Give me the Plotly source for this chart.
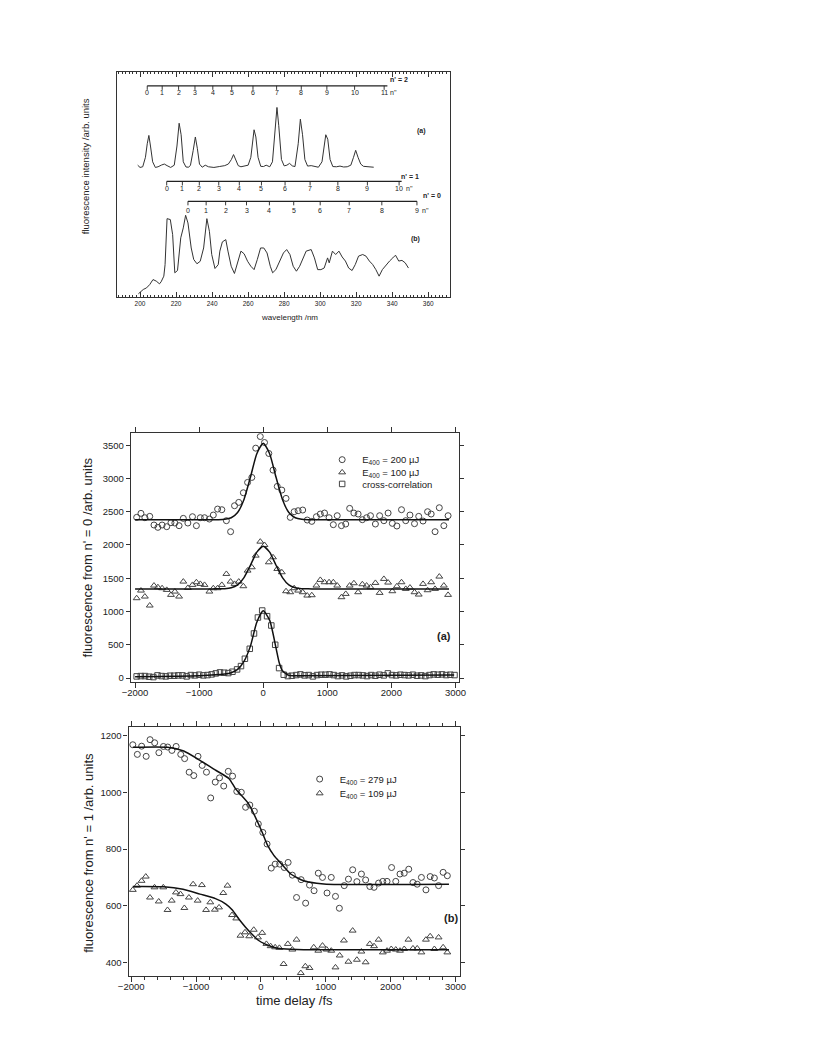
import plotly.graph_objects as go

W, H = 816, 1056
OFF = 8  # the page body adds an 8 px margin; compensate so the picture sits like the reference
FONT = "Liberation Sans, Arial, sans-serif"
INK = "#222222"

# ---------------- panel 1 : dispersed fluorescence spectra ----------------
spec_a_wl = [198.7, 200, 201.5, 203, 204, 204.9, 205.8, 207, 208.5, 210, 212, 213.5, 215, 217, 219,
             220.5, 221.7, 222.8, 224, 225.5, 227, 228, 229.5, 230.7, 231.8, 233, 234.5, 236.2, 238,
             241, 244, 247, 249, 250.7, 251.9, 253.2, 254.5, 256, 258, 260, 261.5, 262.5, 263.3,
             264.3, 265.5, 267, 268.5, 270, 272, 273.5, 275, 276.0, 277, 278.5, 280, 281.5, 283,
             284.5, 286, 287.8, 289.0, 290.2, 291.5, 293, 295, 297, 299, 301, 302.2, 303.1, 304.2,
             305.5, 307, 309, 311, 313, 315, 317, 318.5, 319.7, 321, 322.5, 324, 326, 328, 329.7]
spec_a_int = [58.5, 57.5, 57.8, 62, 68, 71.7, 67, 60, 57.5, 57.8, 58.6, 59.0, 58.3, 57.5, 58.5,
              67, 77.1, 72, 60, 57.7, 57.6, 58.5, 65, 71.0, 66, 59, 57.6, 58.5, 57.8,
              57.5, 57.9, 58.3, 59, 61, 63.2, 61, 58.3, 57.8, 58, 58.5, 62, 70, 74.2,
              71, 62, 58, 57.9, 58.5, 57.8, 60, 74, 84.1, 76, 61, 58.2, 58.5, 59.3,
              58.2, 57.9, 68, 78.9, 72, 61, 58.1, 58.3, 58.0, 57.6, 60, 68, 72.0, 70,
              61, 57.9, 57.8, 58.1, 57.7, 57.8, 58.5, 62, 65.1, 62, 59, 58, 57.9, 57.5, 57.6]

spec_b_wl = [199.1, 201.8, 203.6, 205.4, 207.2, 209.0, 210.8, 211.7, 213.2, 213.9, 215.0, 216.8,
             218.1, 219.3, 220.8, 222.6, 224.0, 225.3, 226.6, 228.4, 229.8, 231.6, 233.4, 235.3,
             237.1, 238.5, 239.8, 241.6, 243.4, 244.3, 245.7, 247.6, 248.8, 250.6, 252.4, 254.2,
             256.0, 257.8, 259.7, 261.5, 263.3, 265.1, 266.9, 268.7, 270.5, 272.3, 273.6, 275.4,
             277.2, 279.6, 281.4, 283.2, 285.0, 286.8, 288.6, 290.4, 292.2, 295.0, 296.8, 298.6,
             300.4, 302.2, 304.1, 305.0, 306.8, 308.6, 310.4, 312.2, 314.0, 315.8, 317.7, 319.5,
             321.3, 323.6, 325.4, 327.3, 329.1, 330.9, 332.7, 334.5, 336.7, 338.5, 340.3, 341.8,
             343.6, 345.4, 347.2, 349.0]
spec_b_int = [1.5, 3.4, 4.1, 5.6, 7.8, 7.1, 5.9, 6.8, 9.3, 14.4, 34.8, 34.4,
              27.7, 10.8, 11.8, 26.3, 30.7, 36.3, 32.9, 21.8, 16.7, 14.8, 15.9, 21.8,
              34.8, 29.2, 18.9, 12.7, 14.4, 20.4, 24.5, 25.5, 20.4, 13.7, 10.5, 15.9,
              20.4, 19.2, 15.9, 13.7, 12.2, 16.7, 21.8, 21.8, 19.6, 13.7, 10.8, 12.2,
              15.2, 19.6, 21.1, 18.9, 13.7, 11.5, 13.7, 17.4, 20.4, 21.1, 17.4, 12.2,
              12.2, 12.9, 17.4, 15.2, 20.4, 18.9, 20.4, 17.8, 16.0, 12.9, 11.8, 14.5,
              18.2, 18.9, 18.2, 16.0, 14.5, 12.2, 9.3, 12.2, 14.5, 16.0, 17.4, 18.6,
              16.0, 16.3, 15.2, 12.9]

# vibrational progressions (n'' combs): wavelength of each member
comb2_wl = [204.0, 212.3, 221.4, 230.5, 240.4, 250.9, 262.7, 275.8, 289.5, 303.7, 319.1, 335.5]
comb1_wl = [214.8, 223.5, 232.9, 243.7, 255.1, 267.4, 280.5, 294.4, 309.8, 326.2, 343.8]
comb0_wl = [226.6, 236.7, 247.5, 259.1, 271.8, 285.3, 300.0, 316.1, 334.2, 353.7]
comb_level = [93.7, 51.3, 42.5]          # height of each comb bar (arb. units)
comb_end = [337.3, 345.2, 353.7]
comb_names = ["n' = 2", "n' = 1", "n' = 0"]
comb_name_pos = [(343.8, 96.3), (350.1, 53.3), (361.9, 45.0)]
npp_pos = [340.8, 349.6, 358.6]

# ---------------- panel 2 : n' = 0 transients ----------------
t_grid = [-1975, -1908, -1847, -1771, -1705, -1644, -1578, -1506, -1440, -1379,
          -1313, -1247, -1176, -1104, -1043, -982, -916, -840, -779, -712,
          -646, -575, -509, -448, -382, -310, -244, -178, -117, -46,
          20, 87, 153, 219, 290, 356, 422, 483, 545, 616,
          687, 758, 830, 891, 957, 1028, 1094, 1155, 1221, 1288,
          1349, 1415, 1481, 1547, 1613, 1674, 1751, 1817, 1883, 1949,
          2015, 2086, 2158, 2224, 2290, 2361, 2427, 2494, 2565, 2621,
          2682, 2748, 2819, 2885]
e200_v = [2415, 2475, 2410, 2430, 2300, 2265, 2300, 2275, 2335, 2330,
          2290, 2400, 2330, 2425, 2290, 2410, 2410, 2390, 2450, 2540,
          2530, 2365, 2200, 2590, 2640, 2785, 2940, 3015, 3455, 3630,
          3540, 3375, 3125, 2880, 2825, 2700, 2415, 2500, 2515, 2525,
          2375, 2355, 2425, 2465, 2480, 2410, 2305, 2440, 2290, 2315,
          2550, 2480, 2465, 2380, 2410, 2440, 2315, 2440, 2365, 2480,
          2325, 2285, 2530, 2365, 2450, 2320, 2430, 2360, 2500, 2465,
          2200, 2560, 2290, 2440]
e100_v = [1200, 1315, 1225, 1090, 1390, 1365, 1350, 1325, 1250, 1300,
          1225, 1450, 1355, 1400, 1440, 1415, 1400, 1300, 1350, 1350,
          1400, 1565, 1450, 1415, 1450, 1380, 1615, 1665, 1840, 2050,
          2000, 1740, 1815, 1640, 1590, 1305, 1290, 1350, 1315, 1290,
          1240, 1245, 1390, 1475, 1440, 1440, 1440, 1390, 1215, 1265,
          1390, 1425, 1290, 1410, 1390, 1365, 1430, 1280, 1490, 1435,
          1305, 1380, 1440, 1340, 1360, 1290, 1255, 1415, 1320, 1440,
          1340, 1525, 1390, 1250]
cc_t = [-1975, -1910, -1845, -1780, -1715, -1650, -1585, -1520, -1455, -1390,
        -1325, -1260, -1195, -1130, -1065, -1000, -935, -870, -805, -740,
        -675, -610, -545, -480, -408, -347, -286, -210, -144, -83,
        -16, 60, 126, 187, 248, 320, 385, 448, 515, 580,
        645, 710, 775, 840, 905, 970, 1035, 1100, 1165, 1230,
        1295, 1360, 1425, 1490, 1555, 1620, 1685, 1750, 1815, 1880,
        1945, 2010, 2075, 2140, 2205, 2270, 2335, 2400, 2465, 2530,
        2595, 2660, 2725, 2790, 2855, 2920, 2985]
cc_v = [25, 30, 30, 20, 15, 40, 30, 25, 35, 35,
        40, 40, 25, 45, 40, 50, 40, 45, 55, 70,
        85, 80, 75, 95, 130, 180, 290, 440, 670, 910,
        1015, 930, 790, 500, 150, 50, 30, 35, 45, 55,
        40, 45, 25, 45, 50, 50, 55, 45, 30, 40,
        25, 35, 45, 45, 40, 30, 45, 35, 50, 40,
        70, 45, 40, 50, 45, 40, 50, 35, 40, 30,
        45, 55, 50, 55, 45, 50, 45]
fit0_t = [-2000, -800, -700, -600, -500, -400, -300, -200, -100, 0, 100, 200, 300, 400, 500, 600, 700, 800, 2900]
fit200_v = [2380, 2380, 2381, 2386, 2409, 2488, 2685, 3017, 3372, 3530, 3372, 3017, 2685, 2488, 2409, 2386, 2381, 2380, 2380]
fit100_v = [1340, 1340, 1341, 1343, 1356, 1400, 1510, 1695, 1892, 1980, 1892, 1695, 1510, 1400, 1356, 1343, 1341, 1340, 1340]
fitcc_t = [-2000, -1000, -600, -500, -400, -300, -200, -100, 0, 100, 200, 250, 300, 400, 500, 2980]
fitcc_v = [20, 35, 60, 80, 130, 250, 480, 840, 1010, 870, 450, 230, 110, 40, 35, 45]

# ---------------- panel 3 : n' = 1 transients ----------------
e279_t = [-1975, -1905, -1839, -1769, -1709, -1638, -1573, -1503, -1437, -1372,
          -1307, -1236, -1176, -1106, -1035, -970, -905, -839, -774, -704,
          -638, -573, -503, -437, -372, -302, -236, -171, -101, -40,
          30, 95, 160, 220, 290, 360, 420, 485, 550, 620,
          690, 750, 820, 885, 950, 1020, 1085, 1150, 1210, 1285,
          1350, 1415, 1480, 1550, 1615, 1680, 1745, 1815, 1880, 1945,
          2015, 2080, 2145, 2210, 2280, 2345, 2410, 2475, 2545, 2610,
          2675, 2740, 2810, 2875]
e279_v = [1169, 1135, 1164, 1128, 1187, 1176, 1141, 1163, 1161, 1149,
          1163, 1135, 1120, 1072, 1060, 1128, 1096, 1072, 981, 1037,
          1052, 1023, 1075, 1058, 1004, 1001, 948, 956, 934, 889,
          859, 818, 733, 747, 747, 735, 753, 708, 629, 692,
          609, 673, 653, 715, 700, 645, 700, 633, 591, 671,
          694, 727, 685, 712, 691, 668, 665, 680, 686, 686,
          735, 686, 712, 715, 729, 682, 676, 700, 656, 703,
          698, 671, 718, 706]
e109_t = [-1975, -1910, -1840, -1775, -1710, -1640, -1575, -1505, -1440, -1375,
          -1310, -1240, -1180, -1110, -1045, -975, -910, -845, -780, -710,
          -645, -580, -515, -445, -380, -315, -245, -180, -110, -45,
          20, 85, 150, 220, 285, 350, 415, 485, 550, 615,
          685, 750, 815, 885, 950, 1015, 1085, 1150, 1215, 1280,
          1350, 1415, 1480, 1550, 1615, 1680, 1745, 1815, 1880, 1945,
          2010, 2080, 2145, 2210, 2275, 2345, 2410, 2475, 2545, 2610,
          2675, 2740, 2810, 2875]
e109_v = [656, 671, 688, 703, 629, 665, 615, 665, 585, 618,
          647, 641, 592, 629, 676, 618, 673, 585, 612, 586,
          594, 645, 671, 567, 555, 494, 506, 492, 515, 488,
          504, 465, 457, 453, 451, 394, 465, 445, 480, 362,
          386, 380, 453, 441, 459, 445, 441, 382, 424, 477,
          402, 512, 409, 438, 400, 465, 457, 480, 435, 441,
          447, 445, 441, 447, 480, 449, 449, 435, 480, 492,
          447, 488, 453, 435]
fit279_t = [-1975, -1440, -1190, -940, -690, -490, -390, -190, 10, 100, 200, 300, 460, 660, 860, 1010, 2900]
fit279_v = [1160, 1160, 1147, 1114, 1078, 1049, 1013, 960, 865, 815, 778, 752, 712, 688, 679, 676, 676]
fit109_t = [-1975, -1500, -1200, -940, -700, -540, -440, -340, -240, -140, -40, 60, 160, 260, 460, 660, 2900]
fit109_v = [668, 667, 658, 641, 625, 606, 585, 553, 525, 500, 478, 465, 456, 450, 446, 444, 444]


# ---------------- helpers (page pixels -> paper fractions) ----------------
def px(x, y):
    return (x - OFF) / W, 1 - (y - OFF) / H


def dom_x(a, b):
    return [(a - OFF) / W, (b - OFF) / W]


def dom_y(top, bottom):
    return [1 - (bottom - OFF) / H, 1 - (top - OFF) / H]


fig = go.Figure()

# panel 1 traces
line_style = dict(color="#333333", width=1)
fig.add_trace(go.Scatter(x=spec_a_wl, y=spec_a_int, mode="lines", line=line_style,
                         xaxis="x", yaxis="y", showlegend=False, hoverinfo="skip"))
fig.add_trace(go.Scatter(x=spec_b_wl, y=spec_b_int, mode="lines", line=line_style,
                         xaxis="x", yaxis="y", showlegend=False, hoverinfo="skip"))

annotations = []
combs = [comb2_wl, comb1_wl, comb0_wl]
label_drop = [3.1, 3.0, 4.0]
for i, wl in enumerate(combs):
    lev = comb_level[i]
    fig.add_trace(go.Scatter(x=[wl[0], comb_end[i]], y=[lev, lev], mode="lines",
                             line=dict(color="#222222", width=1.3), xaxis="x", yaxis="y",
                             showlegend=False, hoverinfo="skip"))
    tx, ty = [], []
    for w in wl:
        tx += [w, w, None]
        ty += [lev, lev - 1.8, None]
    fig.add_trace(go.Scatter(x=tx, y=ty, mode="lines", line=dict(color="#222222", width=0.9),
                             xaxis="x", yaxis="y", showlegend=False, hoverinfo="skip"))
    for k, w in enumerate(wl):
        annotations.append(dict(x=w, y=lev - label_drop[i], xref="x", yref="y", text=str(k),
                                showarrow=False, font=dict(family=FONT, size=7, color=INK)))
    annotations.append(dict(x=npp_pos[i], y=lev - label_drop[i], xref="x", yref="y", text="n''",
                            showarrow=False, font=dict(family=FONT, size=7, color=INK)))
    annotations.append(dict(x=comb_name_pos[i][0], y=comb_name_pos[i][1], xref="x", yref="y",
                            text="<b>%s</b>" % comb_names[i], showarrow=False,
                            font=dict(family=FONT, size=7, color=INK)))

annotations.append(dict(x=356.4, y=73.8, xref="x", yref="y", text="<b>(a)</b>", showarrow=False,
                        font=dict(family=FONT, size=7, color=INK)))
annotations.append(dict(x=352.8, y=25.8, xref="x", yref="y", text="<b>(b)</b>", showarrow=False,
                        font=dict(family=FONT, size=7, color=INK)))

# panel 2 traces
mk = dict(color="#444444", size=6, line=dict(width=1))
fig.add_trace(go.Scatter(x=t_grid, y=e200_v, mode="markers", name="E<sub>400</sub> = 200 µJ",
                         marker=dict(symbol="circle-open", **mk), xaxis="x2", yaxis="y2", legend="legend"))
fig.add_trace(go.Scatter(x=t_grid, y=e100_v, mode="markers", name="E<sub>400</sub> = 100 µJ",
                         marker=dict(symbol="triangle-up-open", **mk), xaxis="x2", yaxis="y2", legend="legend2"))
fig.add_trace(go.Scatter(x=cc_t, y=cc_v, mode="markers", name="cross-correlation",
                         marker=dict(symbol="square-open", color="#444444", size=5.5, line=dict(width=1)),
                         xaxis="x2", yaxis="y2", legend="legend3"))
fit_line = dict(color="#111111", width=1.5, shape="spline", smoothing=0.6)
for fy, fx in [(fit200_v, fit0_t), (fit100_v, fit0_t), (fitcc_v, fitcc_t)]:
    fig.add_trace(go.Scatter(x=fx, y=fy, mode="lines", line=fit_line, xaxis="x2", yaxis="y2",
                             showlegend=False, hoverinfo="skip"))

# panel 3 traces
fig.add_trace(go.Scatter(x=e279_t, y=e279_v, mode="markers", name="E<sub>400</sub> = 279 µJ",
                         marker=dict(symbol="circle-open", **mk), xaxis="x3", yaxis="y3", legend="legend4"))
fig.add_trace(go.Scatter(x=e109_t, y=e109_v, mode="markers", name="E<sub>400</sub> = 109 µJ",
                         marker=dict(symbol="triangle-up-open", **mk), xaxis="x3", yaxis="y3", legend="legend5"))
fig.add_trace(go.Scatter(x=fit279_t, y=fit279_v, mode="lines", line=fit_line, xaxis="x3", yaxis="y3",
                         showlegend=False, hoverinfo="skip"))
fig.add_trace(go.Scatter(x=fit109_t, y=fit109_v, mode="lines", line=fit_line, xaxis="x3", yaxis="y3",
                         showlegend=False, hoverinfo="skip"))


# titles / labels
def ann(x, y, text, size, angle=0, bold=False):
    xx, yy = px(x, y)
    annotations.append(dict(x=xx, y=yy, xref="paper", yref="paper", text=("<b>%s</b>" % text) if bold else text,
                            showarrow=False, textangle=angle, xanchor="center", yanchor="middle",
                            font=dict(family=FONT, size=size, color=INK)))


ann(76, 167, "fluorescence intensity /arb. units", 9.5, -90)
ann(285, 318, "wavelength /nm", 8)
ann(79, 558, "fluorescence from n' = 0 /arb. units", 13, -90)
ann(79, 854, "fluorescence from n' = 1 /arb. units", 13, -90)
ann(290, 1002, "time delay /fs", 13)
ann(443, 637, "(a)", 11, bold=True)
ann(450, 920, "(b)", 11, bold=True)

axis_common = dict(showline=True, linecolor="#333333", linewidth=1.2, mirror="allticks",
                   showgrid=False, zeroline=False, tickcolor="#333333",
                   tickfont=dict(family=FONT, size=9.5, color=INK))


def legend_at(text_x, row_y):
    x, y = px(text_x - 44, row_y - 13)
    return dict(x=x, y=y, xanchor="left", yanchor="top", bgcolor="rgba(0,0,0,0)",
                font=dict(family=FONT, size=9.5, color=INK), tracegroupgap=0)


fig.update_layout(
    width=W, height=H, margin=dict(l=0, r=0, t=0, b=0),
    paper_bgcolor="white", plot_bgcolor="white",
    font=dict(family=FONT, color=INK),
    xaxis=dict(domain=dom_x(108, 449), range=[187.1, 372.2], anchor="y",
               tick0=200, dtick=20, ticks="inside", ticklen=5,
               minor=dict(dtick=2, ticks="inside", ticklen=2.5, tickcolor="#333333"),
               showline=True, linecolor="#333333", linewidth=1, mirror="allticks",
               showgrid=False, zeroline=False, tickcolor="#333333",
               tickfont=dict(family=FONT, size=6.5, color=INK)),
    yaxis=dict(domain=dom_y(71.7, 297.7), range=[0, 100], anchor="x", showticklabels=False,
               ticks="", showline=True, linecolor="#333333", linewidth=1, mirror=True,
               showgrid=False, zeroline=False),
    xaxis2=dict(domain=dom_x(122.3, 457.7), range=[-2067, 3052], anchor="y2",
                dtick=1000, tick0=0, ticks="outside", ticklen=5, ticklabelstandoff=-3, **axis_common),
    yaxis2=dict(domain=dom_y(434, 683), range=[-55, 3680], anchor="x2",
                dtick=500, tick0=0, ticks="outside", ticklen=4, **axis_common),
    xaxis3=dict(domain=dom_x(120, 459), range=[-2041, 3071], anchor="y3",
                dtick=1000, tick0=0, ticks="outside", ticklen=5, ticklabelstandoff=-3,
                minor=dict(dtick=200, ticks="outside", ticklen=3, tickcolor="#333333"), **axis_common),
    yaxis3=dict(domain=dom_y(728.3, 977.7), range=[352, 1232], anchor="x3",
                dtick=200, tick0=0, ticks="outside", ticklen=4, **axis_common),
    legend=legend_at(362, 459),
    legend2=legend_at(362, 471.7),
    legend3=legend_at(362, 483.3),
    legend4=legend_at(339, 779),
    legend5=legend_at(339, 793.3),
    annotations=annotations,
)

fig.write_html("out.html")
